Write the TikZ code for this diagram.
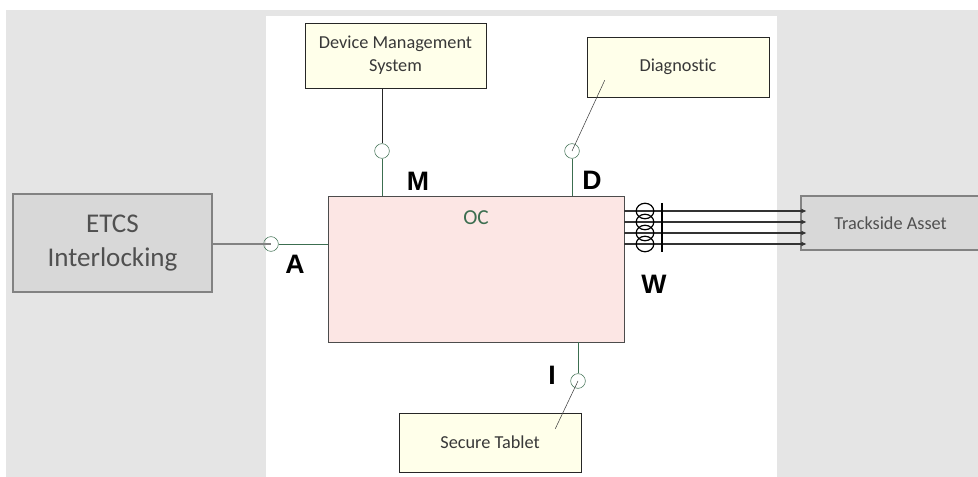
\documentclass[tikz,border=0pt]{standalone}
\usepackage{fontspec}
\setmainfont{Carlito}[Ligatures=NoCommon]
\newfontfamily\ifletter{Liberation Sans}
\usetikzlibrary{arrows.meta}

\definecolor{ifgreen}{RGB}{60,110,80}
\definecolor{ocpink}{RGB}{252,230,228}
\definecolor{boxyellow}{RGB}{255,255,234}
\definecolor{bggray}{RGB}{229,229,229}
\definecolor{fadegray}{RGB}{216,216,216}
\definecolor{fadeline}{RGB}{130,130,130}
\definecolor{fadetext}{RGB}{80,80,80}

\tikzset{
  sysbox/.style={draw=black!85, fill=boxyellow, text=black!78, align=center, inner sep=0pt,
    font=\fontsize{13.7}{17}\selectfont},
  extbox/.style={draw=fadeline, line width=1.2pt, fill=fadegray, text=fadetext, align=center, inner sep=0pt},
  socket/.style={circle, draw=ifgreen, minimum size=11pt, inner sep=0pt},
  iflabel/.style={font=\ifletter\bfseries\fontsize{20}{24}\selectfont},
}

\begin{document}
\begin{tikzpicture}[x=0.75pt, y=-0.75pt]
    \useasboundingbox (0,0) rectangle (978,477);
    % background:
    \fill [bggray] (6,10) rectangle (978,477);
    \fill [white] (266,16) rectangle (777,477);
    % object controller:
    \node (oc) [draw=black!70, fill=ocpink, minimum width=222pt, minimum height=109.5pt, inner sep=0pt] at (476,269) {};
    \node (octitle) [text=ifgreen, font=\fontsize{16}{19}\selectfont] at (476,218) {OC};
    % systems round it:
    \node (dms) [sysbox, minimum width=135.75pt, minimum height=48.75pt] at (395.5,55.5) {Device Management\\System};
    \node (diag) [sysbox, minimum width=136.5pt, minimum height=45pt] at (678,67) {Diagnostic};
    \node (tablet) [sysbox, minimum width=136.5pt, minimum height=44.25pt] at (490,442.5) {Secure Tablet};
    \node (etcs) [extbox, minimum width=149.25pt, minimum height=73.5pt, font=\fontsize{20.3}{26}\selectfont] at (112.5,243) {ETCS\\Interlocking};
    \node (track) [extbox, minimum width=134.25pt, minimum height=40.5pt, font=\fontsize{13.7}{17}\selectfont] at (890.5,223) {Trackside Asset};
    % sockets:
    \node (ifA) [socket] at (271,244) {};
    \node (ifM) [socket] at (382,151) {};
    \node (ifD) [socket] at (572,151) {};
    \node (ifI) [socket] at (578,381) {};
    \coordinate (diagend) at ([shift={(18,-17)}]diag.south west);
    \coordinate (tabletend) at ([shift={(-26,16)}]tablet.north east);
    % interface A:
    \draw [fadeline, line width=1pt] (etcs.east |- ifA) -- (ifA.center);
    \draw [ifgreen] (ifA) -- (ifA -| oc.west);
    \node (labA) [iflabel] at (295,264) {A};
    % interface M:
    \draw [black!85] (ifM |- dms.south) -- (ifM);
    \draw [ifgreen] (ifM) -- (ifM |- oc.north);
    \node (labM) [iflabel] at (418,181) {M};
    % interface D:
    \draw [black!75] (ifD.center) -- (diagend);
    \draw [ifgreen] (ifD) -- (ifD |- oc.north);
    \node (labD) [iflabel] at (592,180) {D};
    % interface I:
    \draw [black!75] (ifI.center) -- (tabletend);
    \draw [ifgreen] (ifI) -- (ifI |- oc.south);
    \node (labI) [iflabel] at (552,375) {I};
    % interface W:
    \foreach \y in {211,222,233,244} {
        \draw [black!80, line width=0.8pt, -{Stealth[length=4pt, width=3.5pt]}] (oc.east |- 0,\y) -- ([xshift=4.5pt]track.west |- 0,\y);
        \draw [line width=0.9pt] (645,\y) ellipse [x radius=6.6pt, y radius=5.8pt];
    }
    \draw [line width=1pt] (662,203) -- (662,252);
    \node (labW) [iflabel] at (654,284) {W};
\end{tikzpicture}
\end{document}
